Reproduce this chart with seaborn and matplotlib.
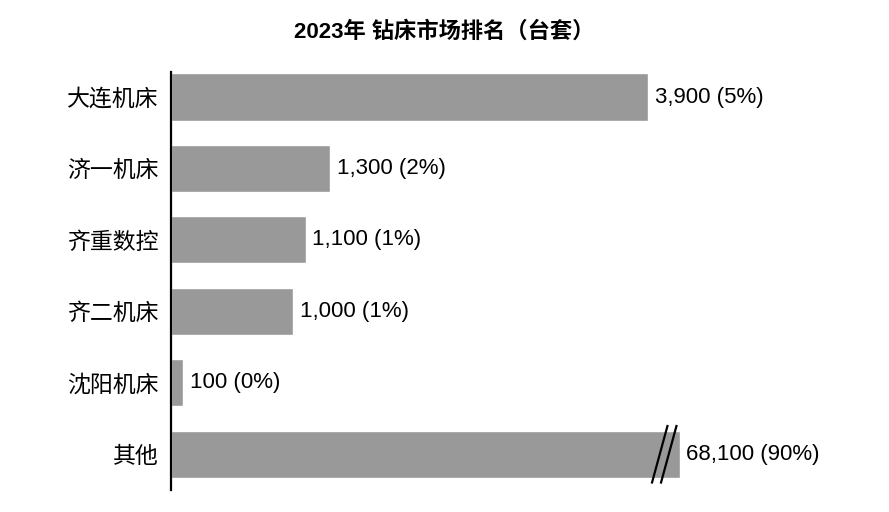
import matplotlib
matplotlib.use("Agg")
import matplotlib.pyplot as plt
import seaborn as sns
import pandas as pd

categories = ["大连机床", "济一机床", "齐重数控", "齐二机床", "沈阳机床", "其他"]
values = [3900, 1300, 1100, 1000, 100, 68100]
shares = ["5%", "2%", "1%", "1%", "0%", "90%"]
title = "2023年 钻床市场排名（台套）"
display_cap = 4160  # visual truncation for the broken bar

sns.set_theme(style="white")
FAM = ["Liberation Sans", "Noto Sans CJK SC", "DejaVu Sans"]
plt.rcParams["font.family"] = FAM
plt.rcParams["text.color"] = "black"
plt.rcParams["ytick.color"] = "black"

df = pd.DataFrame({"cat": categories, "val": values})
df["shown"] = df["val"].clip(upper=display_cap)

fig = plt.figure(figsize=(8.89, 5.12), dpi=100)
ax = fig.add_axes([171 / 889, 1 - 490 / 512, 689 / 889, 418 / 512])
sns.barplot(data=df, x="shown", y="cat", orient="h", color="#999999",
            saturation=1, width=0.66, ax=ax)
ax.set_xlim(0, 5634)
ax.set_ylim(5.5, -0.35)
ax.set_xlabel("")
ax.set_ylabel("")
ax.set_xticks([])
for s in ["top", "right", "bottom"]:
    ax.spines[s].set_visible(False)
ax.spines["left"].set_color("black")
ax.spines["left"].set_linewidth(1.6)
ax.tick_params(axis="y", length=0, pad=9, labelsize=16.5, labelcolor="black")
for lab in ax.get_yticklabels():
    lab.set_fontfamily(FAM)

for i, (v, s, sh) in enumerate(zip(values, shares, df["shown"])):
    ax.text(sh + 55, i, f"{v:,} ({s})", va="center", ha="left", fontsize=16,
            color="black", family=FAM)

# break marks on the truncated bar
i = len(categories) - 1
px = 5634 / 689
for off in (28, 19):
    x0 = display_cap - off * px
    ax.plot([x0, x0 + 16 * px], [i + 0.41, i - 0.41], color="black", lw=1.6,
            clip_on=False, solid_capstyle="butt")

fig.text(0.5, 1 - 32 / 512, title, ha="center", va="center", fontsize=16,
         fontweight="bold", color="black", family=FAM)

fig.savefig("out.png", dpi=100, facecolor="white")
